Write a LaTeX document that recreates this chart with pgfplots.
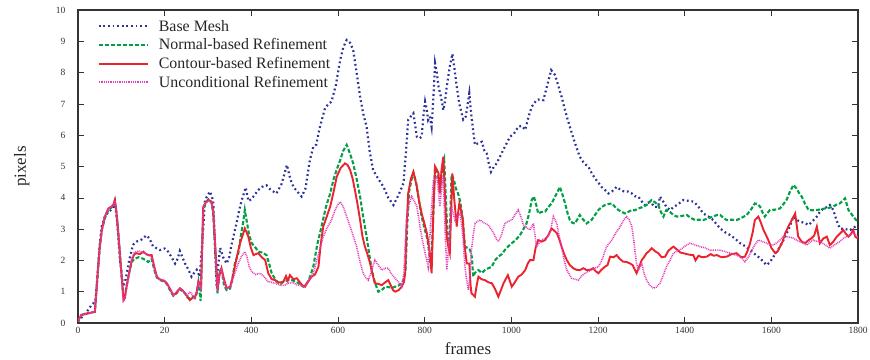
\documentclass[border=0pt]{standalone}
\usepackage{fontspec}
\setmainfont{Liberation Serif}
\usepackage{pgfplots}
\pgfplotsset{compat=1.18}
\definecolor{cblue}{RGB}{45,50,155}
\definecolor{cgreen}{RGB}{0,160,70}
\definecolor{cred}{RGB}{235,35,45}
\definecolor{cmag}{RGB}{230,60,185}
\begin{document}
\begin{tikzpicture}
\begin{axis}[
  name=ax,
  scale only axis, width=780pt, height=313pt,
  xmin=0, xmax=1800, ymin=0, ymax=10,
  axis line style={line width=1.1pt, black!80},
  tick style={black!80, line width=0.6pt},
  major tick length=6pt,
  tick align=inside,
  xtick={0,200,400,600,800,1000,1200,1400,1600,1800},
  xticklabels={0,20,400,600,800,1000,1200,1400,1600,1800},
  ytick={0,1,2,3,4,5,6,7,8,9,10},
  /pgf/number format/assume math mode=true,
  ticklabel style={font=\fontsize{9.5}{11}\selectfont, text=black!80},
  yticklabel style={xshift=-9pt},
  xticklabel style={yshift=-1pt},
  xlabel={frames}, ylabel={pixels},
  label style={font=\fontsize{17}{20}\selectfont, text=black!85},
  xlabel style={at={(axis description cs:0.5,-0.083)}, anchor=center},
  ylabel style={at={(axis description cs:-0.072,0.5)}, anchor=center, rotate=0},
  legend style={draw=none, fill=none, at={(axis description cs:0.025,0.975)}, anchor=north west,
    font=\fontsize{15.9}{18}\selectfont, text=black!85, row sep=2pt, column sep=8pt, inner sep=0pt},
  legend cell align=left,
  legend image code/.code={\draw[#1] (0pt,0pt) -- (49pt,0pt);},
]
\addplot[cblue, line width=2.2pt, dash pattern=on 1.8pt off 2.8pt] coordinates {
(0,0.05)(10,0.2)(20,0.35)(30,0.55)(40,0.7)(45,1.5)(50,2.5)(55,3.1)(62,3.4)(70,3.55)(80,3.65)(85,3.85)(90,3.3)(97,2.0)(104,1.16)(110,1.4)(118,2.0)(127,2.5)(135,2.6)(145,2.65)(158,2.8)(165,2.7)(173,2.45)(180,2.4)(189,2.33)(200,2.38)(208,2.28)(216,2.1)(224,1.9)(230,2.05)(235,2.3)(241,2.1)(247,1.9)(255,1.7)(262,1.48)(268,1.6)(274,1.7)(281,1.48)(287,2.6)(293,3.93)(300,4.1)(305,4.2)(312,3.9)(316,2.5)(320,1.16)(324,1.9)(328,2.4)(335,2.1)(343,1.9)(349,2.1)(355,2.55)(361,2.9)(366,3.2)(372,3.6)(378,3.93)(387,4.33)(393,3.9)(400,3.95)(408,4.1)(416,4.25)(425,4.35)(435,4.4)(445,4.25)(458,4.14)(470,4.45)(482,5.05)(490,4.6)(497,4.35)(506,4.2)(516,4.04)(525,4.3)(535,5.2)(543,5.63)(550,5.7)(557,6.2)(570,6.86)(578,7.0)(585,7.07)(595,7.6)(605,8.4)(612,8.8)(620,9.04)(628,8.95)(635,8.72)(643,8.0)(651,7.23)(658,6.7)(666,6.27)(673,5.5)(681,4.89)(693,4.6)(705,4.35)(716,4.0)(728,3.77)(740,4.1)(751,4.46)(757,5.5)(762,6.49)(768,6.6)(774,6.7)(782,5.95)(788,5.9)(793,5.95)(797,6.6)(801,7.07)(805,6.8)(808,6.49)(812,6.6)(816,6.27)(820,7.2)(824,8.3)(828,8.0)(832,7.55)(838,7.2)(843,6.8)(847,7.1)(851,7.55)(858,8.2)(864,8.6)(869,8.1)(874,7.55)(880,7.0)(889,6.5)(895,6.6)(903,7.34)(908,6.59)(916,5.69)(924,5.75)(932,5.79)(938,5.5)(943,5.42)(948,5.1)(953,4.83)(960,5.0)(966,5.1)(975,5.35)(985,5.63)(997,5.95)(1006,6.05)(1016,6.27)(1024,6.3)(1032,6.17)(1040,6.6)(1047,6.91)(1058,7.12)(1066,7.15)(1074,7.12)(1082,7.55)(1092,8.08)(1101,7.92)(1108,7.6)(1116,7.23)(1122,6.9)(1128,6.59)(1135,6.27)(1147,5.74)(1158,5.31)(1168,5.1)(1178,4.99)(1185,4.8)(1193,4.62)(1200,4.5)(1208,4.35)(1216,4.25)(1224,4.14)(1232,4.2)(1243,4.35)(1252,4.25)(1262,4.19)(1270,4.2)(1278,4.14)(1285,4.05)(1293,4.04)(1300,3.9)(1308,3.77)(1316,3.85)(1324,3.82)(1331,3.7)(1339,3.72)(1343,4.04)(1352,3.85)(1358,3.7)(1366,3.61)(1374,3.7)(1382,3.77)(1390,3.85)(1397,3.93)(1410,3.9)(1420,3.88)(1430,3.75)(1443,3.5)(1455,3.4)(1466,3.29)(1474,3.15)(1482,3.02)(1493,2.9)(1505,2.81)(1516,2.7)(1528,2.55)(1540,2.45)(1551,2.33)(1562,2.2)(1574,2.07)(1582,1.95)(1589,1.85)(1597,1.95)(1605,2.12)(1616,2.35)(1628,2.65)(1640,3.0)(1651,3.4)(1658,3.3)(1666,3.24)(1676,3.2)(1686,3.13)(1695,3.25)(1705,3.4)(1712,3.55)(1720,3.66)(1728,3.7)(1735,3.77)(1743,3.61)(1750,3.3)(1758,3.02)(1770,3.0)(1782,2.97)(1790,3.05)(1800,3.13)
};
\addlegendentry{Base Mesh}
\addplot[cgreen, line width=2.1pt, dash pattern=on 4pt off 2pt] coordinates {
(0,0.05)(3,0.15)(8,0.26)(20,0.3)(30,0.33)(39,0.36)(45,1.5)(50,2.4)(55,2.97)(62,3.35)(70,3.6)(78,3.7)(82,3.75)(85,3.9)(89,3.5)(93,2.87)(99,1.8)(105,0.8)(108,0.85)(112,1.16)(118,1.6)(124,1.95)(130,2.05)(140,2.1)(151,2.05)(157,2.0)(162,1.95)(170,2.05)(176,1.7)(182,1.45)(188,1.4)(193,1.35)(199,1.33)(205,1.25)(212,1.05)(220,0.87)(227,0.95)(235,1.08)(241,1.02)(247,0.95)(252,0.82)(258,0.78)(264,0.85)(270,0.8)(274,0.95)(278,1.3)(283,0.7)(289,3.6)(295,3.85)(301,3.95)(308,3.85)(312,3.5)(316,2.5)(322,0.95)(326,1.6)(331,1.75)(337,1.2)(343,1.05)(351,1.1)(356,1.4)(362,1.9)(370,2.23)(376,2.8)(381,3.2)(385,3.61)(390,3.2)(395,2.8)(401,2.55)(410,2.4)(416,2.28)(425,2.25)(435,2.17)(441,1.9)(447,1.59)(455,1.4)(461,1.3)(468,1.25)(474,1.32)(480,1.35)(489,1.4)(497,1.35)(505,1.3)(512,1.25)(520,1.16)(530,1.3)(536,1.5)(543,1.8)(552,2.5)(562,3.08)(572,3.7)(582,4.14)(590,4.6)(597,4.9)(605,5.2)(612,5.5)(620,5.69)(628,5.4)(635,5.1)(643,4.6)(651,4.04)(658,3.4)(666,2.76)(672,2.2)(678,1.69)(685,1.3)(693,1.0)(701,1.05)(709,1.16)(716,1.15)(724,1.12)(732,1.16)(740,1.2)(747,1.27)(752,1.4)(756,1.7)(760,3.2)(764,4.2)(770,4.6)(774,4.8)(780,4.5)(786,4.0)(793,3.4)(800,3.0)(806,2.7)(810,2.3)(815,1.7)(820,3.6)(824,4.95)(830,4.8)(835,4.2)(840,4.9)(845,5.2)(849,4.0)(853,2.7)(857,2.4)(860,3.8)(862,4.73)(867,4.6)(872,4.3)(877,4.14)(882,3.88)(888,3.3)(893,2.44)(899,2.4)(905,2.33)(909,2.1)(912,1.48)(916,1.6)(924,1.69)(932,1.6)(939,1.69)(947,1.75)(955,1.8)(962,2.0)(970,2.12)(978,2.2)(985,2.33)(993,2.45)(1001,2.55)(1010,2.65)(1020,2.81)(1028,3.0)(1035,3.18)(1041,3.5)(1047,3.93)(1052,4.04)(1057,3.8)(1062,3.5)(1070,3.55)(1078,3.56)(1085,3.7)(1093,3.82)(1101,4.04)(1107,4.2)(1112,4.35)(1118,4.1)(1124,3.82)(1130,3.5)(1135,3.29)(1141,3.2)(1147,3.18)(1152,3.3)(1158,3.45)(1166,3.3)(1174,3.18)(1180,3.25)(1185,3.29)(1193,3.45)(1201,3.61)(1208,3.7)(1216,3.77)(1224,3.8)(1232,3.82)(1240,3.7)(1247,3.61)(1255,3.55)(1262,3.5)(1270,3.55)(1278,3.61)(1285,3.6)(1293,3.66)(1302,3.7)(1312,3.77)(1318,3.85)(1324,3.93)(1332,3.85)(1339,3.77)(1345,3.55)(1351,3.4)(1358,3.61)(1366,3.55)(1374,3.45)(1382,3.4)(1393,3.42)(1405,3.45)(1415,3.35)(1424,3.29)(1432,3.3)(1443,3.29)(1455,3.35)(1466,3.4)(1474,3.45)(1482,3.45)(1490,3.35)(1497,3.29)(1508,3.3)(1520,3.29)(1530,3.35)(1543,3.45)(1552,3.6)(1562,3.82)(1568,3.8)(1574,3.72)(1579,3.55)(1585,3.4)(1590,3.5)(1597,3.61)(1608,3.62)(1620,3.66)(1628,3.8)(1635,3.93)(1643,4.2)(1651,4.41)(1658,4.3)(1664,4.15)(1670,4.04)(1678,3.8)(1686,3.61)(1695,3.6)(1705,3.61)(1714,3.63)(1724,3.66)(1733,3.68)(1743,3.72)(1750,3.78)(1758,3.82)(1764,3.9)(1770,3.98)(1774,3.8)(1778,3.61)(1784,3.5)(1789,3.4)(1795,3.3)(1800,3.24)
};
\addlegendentry{Normal-based Refinement}
\addplot[cred, line width=1.9pt] coordinates {
(0,0.05)(3,0.15)(8,0.26)(20,0.3)(30,0.33)(39,0.36)(45,1.5)(50,2.4)(55,2.97)(62,3.4)(70,3.66)(78,3.72)(82,3.8)(85,3.93)(89,3.5)(93,2.87)(99,1.8)(105,0.73)(108,0.8)(112,1.16)(118,1.6)(124,2.01)(130,2.2)(135,2.23)(143,2.2)(151,2.28)(157,2.2)(162,2.17)(170,2.17)(176,1.8)(182,1.48)(188,1.4)(193,1.37)(199,1.35)(205,1.27)(212,1.1)(220,0.89)(227,0.95)(235,1.11)(241,1.05)(247,0.95)(252,0.85)(258,0.73)(264,0.8)(270,0.84)(274,1.0)(278,1.32)(284,1.16)(289,3.72)(295,3.85)(301,3.93)(308,3.88)(312,3.6)(316,2.65)(322,1.05)(326,1.5)(331,1.75)(337,1.4)(343,1.11)(351,1.16)(356,1.4)(362,1.8)(368,2.2)(374,2.55)(380,2.8)(385,3.02)(389,2.9)(393,2.76)(399,2.4)(405,2.17)(410,2.2)(416,2.23)(424,2.1)(432,2.01)(439,1.59)(447,1.4)(455,1.37)(461,1.3)(468,1.3)(474,1.32)(480,1.5)(484,1.35)(489,1.53)(497,1.4)(505,1.43)(512,1.3)(518,1.2)(524,1.16)(530,1.3)(539,1.48)(547,1.55)(555,1.8)(560,2.5)(566,3.08)(574,3.4)(582,3.72)(590,4.2)(597,4.67)(606,4.95)(616,5.1)(622,5.05)(628,4.89)(634,4.6)(639,4.25)(645,3.8)(651,3.29)(656,2.8)(662,2.44)(668,2.2)(674,1.91)(679,1.6)(685,1.27)(693,1.25)(701,1.21)(709,1.3)(716,1.37)(722,1.2)(727,1.05)(732,1.0)(740,1.05)(747,1.16)(752,1.3)(755,1.59)(758,3.0)(762,4.14)(768,4.6)(774,4.83)(778,4.6)(782,4.35)(787,3.9)(793,3.5)(799,3.2)(805,2.87)(808,2.6)(812,2.23)(816,1.59)(820,3.5)(824,5.0)(828,4.9)(832,4.78)(835,4.14)(839,4.9)(843,5.31)(847,4.0)(851,2.76)(855,2.4)(858,2.23)(861,3.5)(864,4.78)(868,4.0)(874,3.08)(877,3.5)(880,3.82)(884,3.6)(888,3.29)(892,2.5)(897,1.9)(903,1.9)(906,1.2)(908,0.95)(912,0.9)(916,0.84)(920,1.2)(924,1.48)(931,1.4)(939,1.37)(947,1.3)(955,1.27)(962,1.1)(970,0.84)(976,1.05)(982,1.27)(987,1.4)(992,1.53)(1001,1.16)(1008,1.3)(1016,1.48)(1024,1.55)(1032,1.69)(1038,1.9)(1043,2.01)(1051,2.01)(1056,2.4)(1062,2.65)(1070,2.6)(1078,2.65)(1085,2.8)(1093,3.02)(1099,2.95)(1105,2.87)(1110,2.7)(1116,2.44)(1122,2.2)(1128,2.01)(1135,1.85)(1143,1.75)(1150,1.7)(1158,1.69)(1166,1.75)(1174,1.69)(1182,1.7)(1189,1.75)(1195,1.65)(1201,1.59)(1208,1.7)(1216,1.8)(1222,1.85)(1228,2.12)(1236,2.1)(1243,2.17)(1250,2.05)(1258,1.96)(1266,1.95)(1274,1.9)(1280,1.85)(1285,1.7)(1289,1.59)(1295,1.8)(1301,2.01)(1306,2.1)(1312,2.23)(1318,2.3)(1324,2.39)(1331,2.3)(1339,2.23)(1347,2.1)(1355,2.12)(1362,2.3)(1370,2.4)(1374,2.44)(1382,2.35)(1390,2.25)(1397,2.23)(1405,2.2)(1412,2.18)(1420,2.17)(1425,2.0)(1432,2.15)(1440,2.1)(1451,2.12)(1460,2.2)(1467,2.15)(1474,2.17)(1485,2.1)(1497,2.12)(1508,2.2)(1520,2.23)(1530,2.1)(1539,2.12)(1545,2.3)(1551,2.55)(1557,2.9)(1562,3.29)(1570,3.4)(1576,3.2)(1582,2.97)(1588,2.8)(1593,2.65)(1600,2.4)(1609,2.23)(1615,2.3)(1620,2.44)(1626,2.6)(1632,2.87)(1640,3.1)(1647,3.29)(1655,3.5)(1662,2.76)(1670,2.6)(1678,2.55)(1686,2.65)(1693,2.71)(1699,2.8)(1705,3.08)(1712,2.55)(1720,2.7)(1728,2.76)(1735,2.49)(1743,2.6)(1751,2.76)(1758,2.85)(1766,2.97)(1772,2.85)(1778,2.76)(1784,2.85)(1789,2.97)(1794,2.75)(1800,2.7)
};
\addlegendentry{Contour-based Refinement}
\addplot[cmag, line width=1.6pt, dash pattern=on 0.9pt off 0.9pt] coordinates {
(0,0.05)(3,0.15)(8,0.26)(20,0.3)(30,0.33)(39,0.36)(45,1.5)(50,2.4)(55,2.97)(62,3.4)(70,3.66)(78,3.72)(82,3.8)(85,3.9)(89,3.5)(93,2.87)(99,1.8)(105,0.7)(108,0.75)(112,1.1)(118,1.6)(124,2.05)(130,2.25)(140,2.3)(151,2.25)(157,2.2)(162,2.2)(170,2.1)(176,1.75)(182,1.5)(188,1.4)(193,1.38)(199,1.35)(205,1.25)(212,1.1)(220,0.9)(227,1.0)(235,1.1)(241,1.05)(247,0.95)(252,0.85)(258,1.0)(264,0.9)(270,0.75)(274,0.95)(278,1.3)(284,1.1)(289,3.7)(295,3.85)(301,3.9)(308,3.85)(312,3.6)(316,2.6)(322,1.0)(326,1.6)(331,1.7)(337,1.35)(343,1.1)(351,1.15)(356,1.35)(362,1.6)(370,1.9)(376,2.1)(385,2.28)(390,2.1)(395,1.8)(401,1.64)(410,1.55)(420,1.59)(428,1.5)(439,1.32)(447,1.3)(455,1.27)(466,1.21)(476,1.2)(485,1.27)(495,1.3)(505,1.22)(512,1.2)(520,1.16)(530,1.3)(543,1.59)(555,2.2)(566,2.76)(575,3.05)(585,3.29)(593,3.6)(601,3.82)(606,3.85)(612,3.72)(620,3.4)(628,3.08)(636,2.75)(643,2.44)(650,2.0)(658,1.59)(664,1.45)(670,1.37)(677,1.65)(685,2.01)(693,1.85)(701,1.69)(709,1.75)(716,1.75)(724,1.55)(732,1.43)(740,1.3)(747,1.16)(752,1.6)(758,3.29)(764,3.8)(770,4.04)(776,3.9)(782,3.72)(788,3.2)(793,2.76)(797,2.5)(801,2.23)(805,2.0)(808,1.8)(813,3.0)(820,4.57)(828,4.67)(832,4.2)(835,3.72)(839,4.3)(843,4.67)(847,3.0)(851,1.69)(856,2.5)(862,3.72)(866,3.5)(870,3.29)(876,3.4)(882,3.5)(888,2.8)(893,1.8)(897,1.37)(901,1.05)(905,1.6)(908,2.33)(912,2.8)(916,3.18)(922,3.25)(928,3.29)(937,3.2)(947,3.13)(958,2.9)(965,2.7)(970,2.6)(977,2.8)(985,3.18)(993,3.25)(1001,3.29)(1008,3.45)(1016,3.61)(1022,3.4)(1028,3.13)(1036,3.05)(1043,2.97)(1051,3.18)(1058,2.44)(1064,2.55)(1070,2.65)(1078,2.7)(1085,2.76)(1091,3.0)(1097,3.4)(1105,3.18)(1110,2.8)(1116,2.44)(1122,2.0)(1128,1.69)(1134,1.55)(1139,1.43)(1147,1.4)(1155,1.37)(1162,1.5)(1170,1.59)(1178,1.65)(1185,1.69)(1193,1.75)(1201,1.8)(1207,1.95)(1212,2.12)(1216,2.3)(1220,2.44)(1226,2.55)(1232,2.65)(1238,2.8)(1243,2.92)(1250,3.05)(1255,3.18)(1260,3.3)(1266,3.4)(1272,3.3)(1278,3.08)(1282,2.7)(1285,2.33)(1289,1.9)(1293,1.69)(1297,1.8)(1301,1.9)(1306,1.6)(1312,1.37)(1320,1.2)(1328,1.11)(1335,1.15)(1343,1.27)(1350,1.5)(1358,1.8)(1366,2.0)(1374,2.23)(1382,2.3)(1389,2.33)(1400,2.45)(1412,2.55)(1423,2.5)(1435,2.44)(1447,2.4)(1458,2.33)(1470,2.33)(1482,2.33)(1493,2.28)(1505,2.23)(1516,2.18)(1528,2.12)(1539,1.96)(1547,2.1)(1555,2.33)(1562,2.5)(1570,2.65)(1580,2.6)(1589,2.55)(1597,2.5)(1605,2.49)(1616,2.6)(1628,2.76)(1640,2.75)(1651,2.71)(1658,2.65)(1666,2.6)(1674,2.55)(1682,2.49)(1690,2.6)(1697,2.65)(1705,2.6)(1712,2.6)(1724,2.5)(1735,2.39)(1746,2.5)(1758,2.6)(1766,2.7)(1774,2.76)(1782,2.82)(1789,2.87)(1795,2.8)(1800,2.76)
};
\addlegendentry{Unconditional Refinement}
\end{axis}
\pgfresetboundingbox
\path ([xshift=-78pt,yshift=-36pt]ax.south west) rectangle ([xshift=12pt,yshift=10pt]ax.north east);
\end{tikzpicture}
\end{document}
